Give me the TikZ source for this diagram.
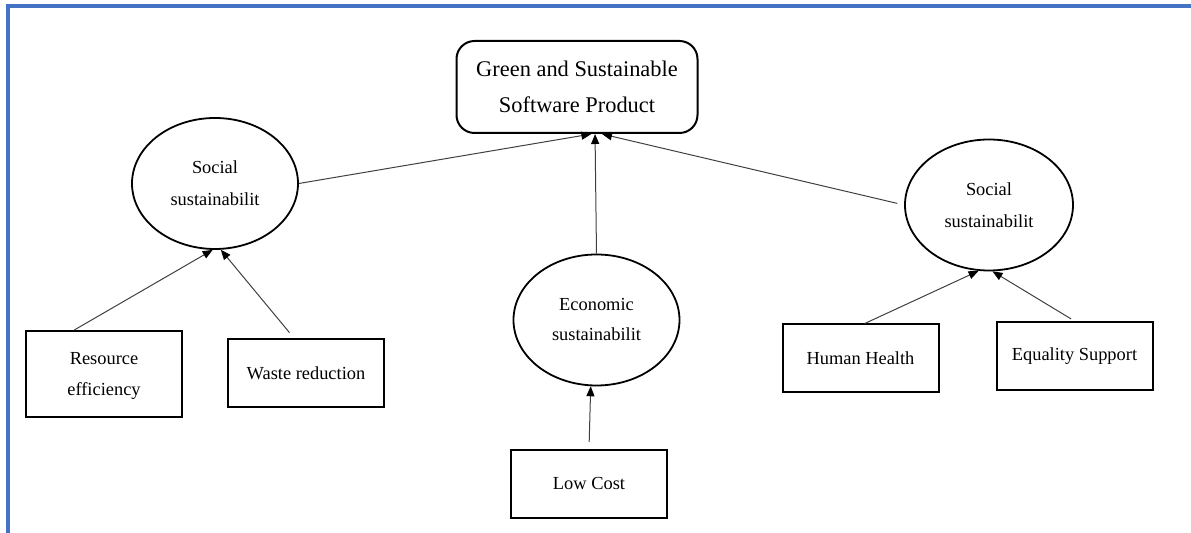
\documentclass[tikz,border=0pt]{standalone}
\usepackage{fontspec}
\setmainfont{Liberation Serif}
\usetikzlibrary{arrows.meta}
\usetikzlibrary{shapes.geometric}
\definecolor{frameblue}{RGB}{68,114,196}
\tikzset{goal/.style={draw, line width=1pt, rounded corners=9pt,
  minimum width=120.5pt, minimum height=46pt, align=center,
  font=\fontsize{11.2}{18}\selectfont}}
\tikzset{pillar/.style={draw, ellipse, line width=0.9pt, inner sep=0pt,
  minimum width=83pt, minimum height=65.5pt, align=center,
  font=\fontsize{9.2}{16}\selectfont}}
\tikzset{factor/.style={draw, line width=1pt, inner sep=0pt,
  minimum width=78pt, minimum height=34pt, align=center,
  font=\fontsize{9.2}{15.5}\selectfont}}
\tikzset{link/.style={draw=black!75, line width=0.5pt,
  -{Triangle[length=5pt,width=4pt,color=black]}}}

\begin{document}
\begin{tikzpicture}[x=0.5pt, y=-0.5pt]
  \path[use as bounding box] (0,0) rectangle (1191,533);
  \draw[frameblue, line width=2pt] (7.5,533) -- (7.5,6.5) -- (1191,6.5);

  \node[goal] (prod) at (577,87) {Green and Sustainable\\Software Product};
  \node[pillar] (lsoc) at (215,183.5) {Social\\sustainabilit};
  \node[pillar, font=\fontsize{9.2}{15}\selectfont] (econ) at (596.5,320) {Economic\\sustainabilit};
  \node[pillar, minimum width=84pt] (rsoc) at (989,205) {Social\\sustainabilit};

  \node[factor, minimum height=43pt, text depth=-8pt] (reso) at (104,374) {Resource\\efficiency};
  \node[factor] (wast) at (306,373) {Waste reduction};
  \node[factor] (lowc) at (589,484) {Low Cost};
  \node[factor] (hum) at (860.5,358.5) {Human Health};
  \node[factor] (equa) at (1074.5,356) {Equality Support};

  \draw[link] (lsoc.east) -- (prod.287);
  \draw[link] (econ.north) -- (prod.291);
  \draw[link, shorten <=3.5pt] (rsoc.west) -- (prod.298);
  \draw[link] (reso.124) -- (lsoc.268);
  \draw[link, shorten <=3.5pt] (wast.109) -- (lsoc.275);
  \draw[link, shorten <=3.5pt] (lowc.north) -- (econ.265);
  \draw[link] (hum.83) -- (rsoc.261);
  \draw[link, shorten <=2pt] (equa.north) -- (rsoc.273);
\end{tikzpicture}
\end{document}
